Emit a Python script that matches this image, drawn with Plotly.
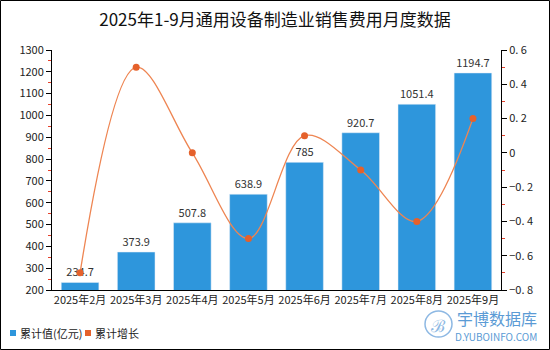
import plotly.graph_objects as go

categories = ["2025年2月", "2025年3月", "2025年4月", "2025年5月", "2025年6月", "2025年7月", "2025年8月", "2025年9月"]
values = [234.7, 373.9, 507.8, 638.9, 785, 920.7, 1051.4, 1194.7]
value_labels = ["234.7", "373.9", "507.8", "638.9", "785", "920.7", "1051.4", "1194.7"]
growth = [-0.7, 0.5, 0.0, -0.5, 0.1, -0.1, -0.4, 0.2]
left_ticks = [200, 300, 400, 500, 600, 700, 800, 900, 1000, 1100, 1200, 1300]
right_ticks = [-0.8, -0.6, -0.4, -0.2, 0, 0.2, 0.4, 0.6]
right_ticktext = ["−0. 8", "−0. 6", "−0. 4", "−0. 2", "0", "0. 2", "0. 4", "0. 6"]
legend_names = ["累计值(亿元)", "累计增长"]

FONT = "Noto Sans CJK SC"
W, H = 550, 350
L, R, T, B = 52, 49, 50, 60
pw, ph = W - L - R, H - T - B
BAR_C, LINE_C, MARK_C = "#2E96DC", "#EE8552", "#E5612B"


def px(x):
    return (x - L) / pw


def py(y):
    return (T + ph - y) / ph


fig = go.Figure()
fig.add_trace(go.Bar(
    x=categories, y=values, marker_color=BAR_C, text=value_labels,
    textposition="outside", textfont=dict(size=11, color="#333", family=FONT),
    cliponaxis=False, showlegend=False, yaxis="y"))
fig.add_trace(go.Scatter(
    x=categories, y=growth, mode="lines+markers", line=dict(color=LINE_C, width=1.3, shape="spline", smoothing=1),
    marker=dict(color=MARK_C, size=7), showlegend=False, yaxis="y2"))

shapes = [dict(type="rect", xref="paper", yref="paper",
               x0=px(0.5), x1=px(W - 0.5), y0=py(H - 0.5), y1=py(0.5),
               line=dict(color="black", width=1))]
annotations = []
# manual legend
leg_x = [10, 85]
leg_cols = [BAR_C, MARK_C]
for lx, name, col in zip(leg_x, legend_names, leg_cols):
    shapes.append(dict(type="rect", xref="paper", yref="paper", x0=px(lx), x1=px(lx + 6),
                       y0=py(336), y1=py(330), fillcolor=col, line=dict(width=0)))
    annotations.append(dict(text=name, xref="paper", yref="paper", x=px(lx + 8), y=py(333),
                            xanchor="left", yanchor="middle", showarrow=False,
                            font=dict(size=11, color="#222", family=FONT)))
# watermark
annotations += [
    dict(text="宇博数据库", xref="paper", yref="paper", x=px(539), y=py(318),
         xanchor="right", yanchor="middle", showarrow=False,
         font=dict(size=16, color="#5B9BD5", family=FONT)),
    dict(text="D.YUBOINFO.COM", xref="paper", yref="paper", x=px(539), y=py(336),
         xanchor="right", yanchor="middle", showarrow=False,
         font=dict(size=10, color="#5B9BD5", family=FONT)),
    dict(text="ℬ", xref="paper", yref="paper", x=px(438.5), y=py(324),
         xanchor="center", yanchor="middle", showarrow=False,
         font=dict(size=17, color="#8DB8E3")),
]
shapes.append(dict(type="circle", xref="paper", yref="paper", x0=px(425), x1=px(452),
                   y0=py(337), y1=py(311), line=dict(color="#8DB8E3", width=1.5)))

fig.update_layout(
    width=W, height=H, margin=dict(l=L, r=R, t=T, b=B, autoexpand=False),
    paper_bgcolor="white", plot_bgcolor="white",
    font=dict(family=FONT, size=11, color="#222"),
    title=dict(text="2025年1-9月通用设备制造业销售费用月度数据", x=0.5, xanchor="center",
               y=1 - 20 / H, yanchor="middle", font=dict(size=17, color="#111", family=FONT)),
    bargap=0.33, showlegend=False,
    xaxis=dict(showline=True, linecolor="black", linewidth=1, ticks="", tickfont=dict(size=11),
               showgrid=False, fixedrange=True),
    yaxis=dict(range=[200, 1300], tickvals=left_ticks, showline=True, linecolor="black", linewidth=1,
               ticks="outside", ticklen=5, tickcolor="black", showgrid=False, zeroline=False,
               tickfont=dict(size=11),
               minor=dict(ticks="outside", ticklen=3, tickcolor="#E5412B", dtick=50, tick0=0)),
    yaxis2=dict(range=[-0.8, 0.6], overlaying="y", side="right", tickvals=right_ticks, ticktext=right_ticktext,
                showline=True, linecolor="black", linewidth=1, ticks="outside", ticklen=5, tickcolor="black",
                showgrid=False, zeroline=False, tickfont=dict(size=11),
                minor=dict(ticks="outside", ticklen=3, tickcolor="#E5412B", dtick=0.1, tick0=0)),
    shapes=shapes, annotations=annotations,
)

fig.write_html("out.html")
